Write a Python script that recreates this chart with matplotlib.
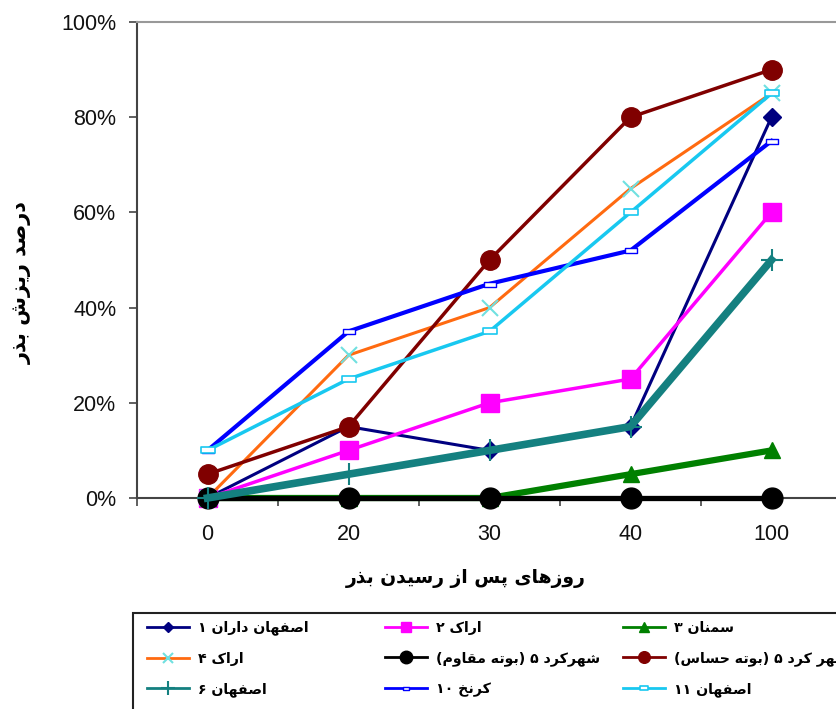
import re
import matplotlib
matplotlib.use("Agg")
import matplotlib.pyplot as plt
from matplotlib.path import Path
from matplotlib.patches import Rectangle

# ---------------- data ----------------
days = ["0", "20", "30", "40", "100"]
names = [
    "اصفهان داران ۱",
    "اراک ۲",
    "سمنان ۳",
    "اراک ۴",
    "شهرکرد ۵ (بوته مقاوم)",
    "شهر کرد ۵ (بوته حساس)",
    "اصفهان ۶",
    "کرنخ ۱۰",
    "اصفهان ۱۱",
]
s1 = [0, 15, 10, 15, 80]
s2 = [0, 10, 20, 25, 60]
s3 = [0, 0, 0, 5, 10]
s4 = [0, 30, 40, 65, 85]
s5 = [0, 0, 0, 0, 0]
s6 = [5, 15, 50, 80, 90]
s7 = [0, 5, 10, 15, 50]
s8 = [10, 35, 45, 52, 75]
s9 = [10, 25, 35, 60, 85]
yticks = [0, 20, 40, 60, 80, 100]
xlabel_txt = "روزهای پس از رسیدن بذر"
ylabel_txt = "درصد ریزش بذر"

# ---------------- simple Arabic/Persian shaping ----------------
FORMS = {
    "ا": ("\uFE8D", "\uFE8E", None, None),
    "آ": ("\uFE81", "\uFE82", None, None),
    "ب": ("\uFE8F", "\uFE90", "\uFE91", "\uFE92"),
    "پ": ("\uFB56", "\uFB57", "\uFB58", "\uFB59"),
    "ت": ("\uFE95", "\uFE96", "\uFE97", "\uFE98"),
    "ح": ("\uFEA1", "\uFEA2", "\uFEA3", "\uFEA4"),
    "خ": ("\uFEA5", "\uFEA6", "\uFEA7", "\uFEA8"),
    "د": ("\uFEA9", "\uFEAA", None, None),
    "ذ": ("\uFEAB", "\uFEAC", None, None),
    "ر": ("\uFEAD", "\uFEAE", None, None),
    "ز": ("\uFEAF", "\uFEB0", None, None),
    "س": ("\uFEB1", "\uFEB2", "\uFEB3", "\uFEB4"),
    "ش": ("\uFEB5", "\uFEB6", "\uFEB7", "\uFEB8"),
    "ص": ("\uFEB9", "\uFEBA", "\uFEBB", "\uFEBC"),
    "ف": ("\uFED1", "\uFED2", "\uFED3", "\uFED4"),
    "ق": ("\uFED5", "\uFED6", "\uFED7", "\uFED8"),
    "ک": ("\uFB8E", "\uFB8F", "\uFB90", "\uFB91"),
    "م": ("\uFEE1", "\uFEE2", "\uFEE3", "\uFEE4"),
    "ن": ("\uFEE5", "\uFEE6", "\uFEE7", "\uFEE8"),
    "ه": ("\uFEE9", "\uFEEA", "\uFEEB", "\uFEEC"),
    "و": ("\uFEED", "\uFEEE", None, None),
    "ی": ("\uFBFC", "\uFBFD", "\uFBFE", "\uFBFF"),
}


def shape(s):
    ch = list(s)
    out = []
    for i, c in enumerate(ch):
        if c not in FORMS:
            out.append(c)
            continue
        prev = ch[i - 1] if i > 0 else None
        nxt = ch[i + 1] if i + 1 < len(ch) else None
        f = FORMS[c]
        jp = prev in FORMS and FORMS[prev][2] is not None
        jn = f[2] is not None and nxt in FORMS
        if jp and jn:
            out.append(f[3])
        elif jp:
            out.append(f[1])
        elif jn:
            out.append(f[2])
        else:
            out.append(f[0])
    txt = "".join(out)
    tokens = re.findall(r"[0-9\u06F0-\u06F9]+|[^0-9\u06F0-\u06F9]+", txt)
    mirror = {"(": ")", ")": "("}
    vis = []
    for t in reversed(tokens):
        if t[0].isdigit():
            vis.append(t)
        else:
            vis.append("".join(mirror.get(c, c) for c in reversed(t)))
    return "".join(vis)


# ---------------- figure ----------------
W, H = 836, 709
fig = plt.figure(figsize=(W / 100, H / 100), dpi=100)
ax = fig.add_axes([137 / W, (H - 498) / H, 705 / W, 476 / H])

x = list(range(len(days)))
rect = Path([(-1, -0.45), (1, -0.45), (1, 0.45), (-1, 0.45), (-1, -0.45)],
            [Path.MOVETO, Path.LINETO, Path.LINETO, Path.LINETO, Path.CLOSEPOLY])

styles = [
    dict(color="#000080", lw=2.2, marker="D", ms=9),
    dict(color="#FF00FF", lw=2.5, marker="s", ms=13),
    dict(color="#008000", lw=4.5, marker="^", ms=12),
    dict(color="#FF6A10", lw=2.2, marker="x", ms=12, mec="#70E0E0", mew=1.5),
    dict(color="#000000", lw=3.8, marker="o", ms=15),
    dict(color="#800000", lw=2.5, marker="o", ms=14),
    dict(color="#148080", lw=5.5, marker="+", ms=16, mew=1.5),
    dict(color="#0000FF", lw=3.0, marker=rect, ms=8, mfc="white", mew=1.0),
    dict(color="#18C8F0", lw=2.5, marker=rect, ms=10, mfc="white", mew=1.2),
]
series = [s1, s2, s3, s4, s5, s6, s7, s8, s9]
lines = []
for vals, st, nm in zip(series, styles, names):
    ln, = ax.plot(x, vals, label=shape(nm), clip_on=False, zorder=3, **st)
    lines.append(ln)

ax.set_xlim(-0.5, len(days) - 0.5)
ax.set_ylim(0, 100)
ax.set_yticks(yticks)
ax.set_yticklabels([f"{v}%" for v in yticks])
ax.set_xticks(x)
ax.set_xticklabels(days)
ax.set_xticks([i + 0.5 for i in range(-1, len(days))], minor=True)
ax.tick_params(axis="x", which="major", length=0, pad=19)
ax.tick_params(axis="x", which="minor", length=6, width=1.2, color="#444444", direction="out")
ax.tick_params(axis="y", length=6, width=1.2, color="#444444", direction="out", pad=9)
for lab in ax.get_xticklabels() + ax.get_yticklabels():
    lab.set_fontfamily("Liberation Sans")
    lab.set_fontsize(15.5)
    lab.set_color("#111111")

ax.spines["right"].set_visible(False)
ax.spines["top"].set_color("#999999")
ax.spines["top"].set_linewidth(1.5)
ax.spines["left"].set_color("#444444")
ax.spines["left"].set_linewidth(1.5)
ax.spines["bottom"].set_color("#444444")
ax.spines["bottom"].set_linewidth(1.5)

ax.set_xlabel(shape(xlabel_txt), fontsize=13.5, fontweight="bold", family="DejaVu Sans",
              va="center")
ax.xaxis.set_label_coords((466 - 137) / 705, (498 - 578) / 476)
ax.set_ylabel(shape(ylabel_txt), fontsize=15, fontweight="bold", family="DejaVu Sans",
              rotation=90, va="center")
ax.yaxis.set_label_coords((22 - 137) / 705, (498 - 282) / 476)

# ---------------- legend (3 columns) ----------------
fig.patches.append(Rectangle((133 / W, -0.05), 1.0, (H - 613) / H + 0.05,
                             transform=fig.transFigure, fill=False,
                             edgecolor="#222222", lw=1.5))
col_x = [141, 379, 617]
cols = [[0, 3, 6], [1, 4, 7], [2, 5, 8]]
for cx, idx in zip(col_x, cols):
    leg = fig.legend([lines[i] for i in idx], [shape(names[i]) for i in idx],
                     loc="upper left", bbox_to_anchor=(cx / W, (H - 615) / H),
                     frameon=False, ncol=1, handlelength=3.0, handletextpad=0.6,
                     labelspacing=1.15, markerscale=0.6, borderaxespad=0.0,
                     borderpad=0.4, prop=dict(family="DejaVu Sans", weight="bold", size=10.2))
    for h in leg.legend_handles:
        h.set_linewidth(2.0)

fig.savefig("out.png", dpi=100)
